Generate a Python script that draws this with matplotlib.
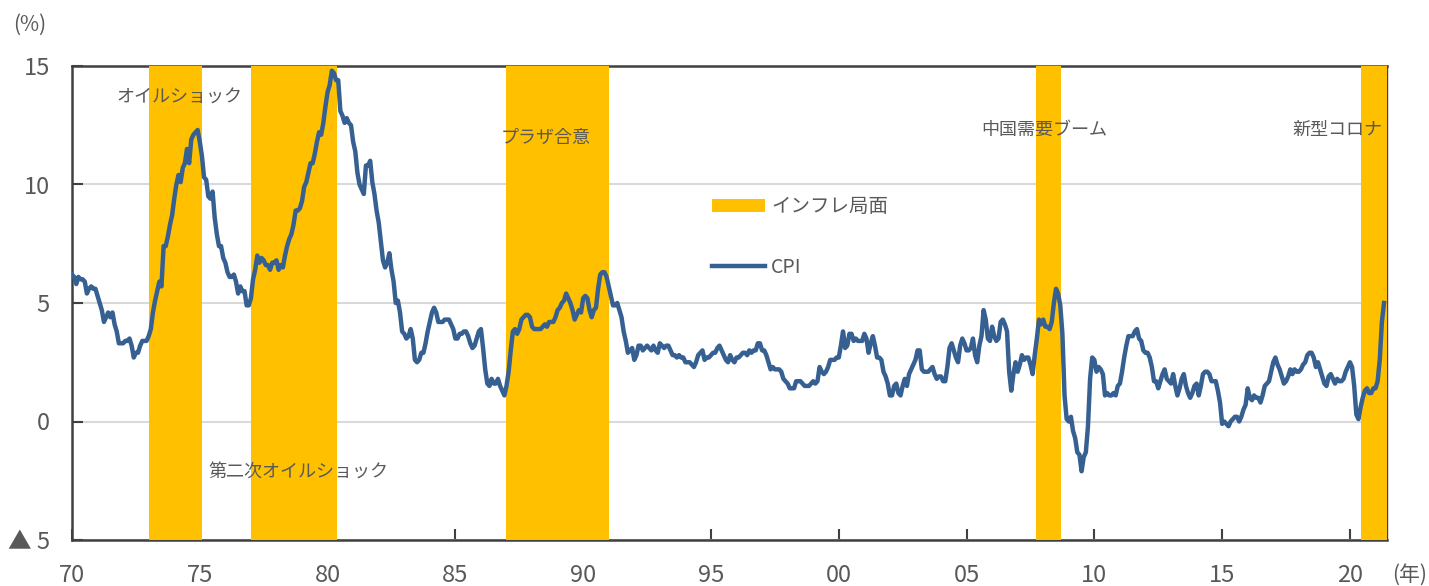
import matplotlib
matplotlib.use("Agg")
import matplotlib.pyplot as plt
import numpy as np
from matplotlib.patches import Patch
from matplotlib.lines import Line2D

plt.rcParams['font.family'] = ['Noto Sans CJK JP', 'DejaVu Sans']

# US CPI, year-over-year % change, monthly from Jan 1970
cpi_by_year = {
    1970: [6.2, 6.1, 5.8, 6.1, 6.0, 6.0, 5.9, 5.4, 5.6, 5.7, 5.6, 5.6],
    1971: [5.3, 5.0, 4.7, 4.2, 4.4, 4.6, 4.4, 4.6, 4.1, 3.8, 3.3, 3.3],
    1972: [3.3, 3.4, 3.4, 3.5, 3.2, 2.7, 2.9, 2.9, 3.2, 3.4, 3.4, 3.4],
    1973: [3.6, 3.9, 4.6, 5.1, 5.5, 5.9, 5.7, 7.4, 7.4, 7.8, 8.3, 8.7],
    1974: [9.4, 10.0, 10.4, 10.1, 10.7, 10.9, 11.5, 10.9, 11.9, 12.1, 12.2, 12.3],
    1975: [11.8, 11.2, 10.3, 10.2, 9.5, 9.4, 9.7, 8.6, 7.9, 7.4, 7.4, 6.9],
    1976: [6.7, 6.3, 6.1, 6.1, 6.2, 5.9, 5.4, 5.7, 5.5, 5.5, 4.9, 4.9],
    1977: [5.2, 6.0, 6.4, 7.0, 6.7, 6.9, 6.8, 6.6, 6.6, 6.4, 6.7, 6.7],
    1978: [6.8, 6.4, 6.6, 6.5, 7.0, 7.4, 7.7, 7.9, 8.3, 8.9, 8.9, 9.0],
    1979: [9.3, 9.9, 10.1, 10.5, 10.9, 10.9, 11.3, 11.8, 12.2, 12.1, 12.6, 13.3],
    1980: [13.9, 14.2, 14.8, 14.7, 14.4, 14.4, 13.1, 12.9, 12.6, 12.8, 12.6, 12.5],
    1981: [11.8, 11.4, 10.5, 10.0, 9.8, 9.6, 10.8, 10.8, 11.0, 10.1, 9.6, 8.9],
    1982: [8.4, 7.6, 6.8, 6.5, 6.7, 7.1, 6.4, 5.9, 5.0, 5.1, 4.6, 3.8],
    1983: [3.7, 3.5, 3.6, 3.9, 3.5, 2.6, 2.5, 2.6, 2.9, 2.9, 3.3, 3.8],
    1984: [4.2, 4.6, 4.8, 4.6, 4.2, 4.2, 4.2, 4.3, 4.3, 4.3, 4.1, 3.9],
    1985: [3.5, 3.5, 3.7, 3.7, 3.8, 3.8, 3.6, 3.3, 3.1, 3.2, 3.5, 3.8],
    1986: [3.9, 3.1, 2.2, 1.6, 1.5, 1.8, 1.6, 1.6, 1.8, 1.5, 1.3, 1.1],
    1987: [1.5, 2.1, 3.0, 3.8, 3.9, 3.7, 3.9, 4.3, 4.4, 4.5, 4.5, 4.4],
    1988: [4.0, 3.9, 3.9, 3.9, 3.9, 4.0, 4.1, 4.0, 4.2, 4.2, 4.2, 4.4],
    1989: [4.7, 4.8, 5.0, 5.1, 5.4, 5.2, 5.0, 4.7, 4.3, 4.5, 4.7, 4.6],
    1990: [5.2, 5.3, 5.2, 4.7, 4.4, 4.7, 4.8, 5.6, 6.2, 6.3, 6.3, 6.1],
    1991: [5.7, 5.3, 4.9, 4.9, 5.0, 4.7, 4.4, 3.8, 3.4, 2.9, 3.0, 3.1],
    1992: [2.6, 2.8, 3.2, 3.2, 3.0, 3.1, 3.2, 3.1, 3.0, 3.2, 3.0, 2.9],
    1993: [3.3, 3.2, 3.1, 3.2, 3.2, 3.0, 2.8, 2.8, 2.7, 2.8, 2.7, 2.7],
    1994: [2.5, 2.5, 2.5, 2.4, 2.3, 2.5, 2.8, 2.9, 3.0, 2.6, 2.7, 2.7],
    1995: [2.8, 2.9, 2.9, 3.1, 3.2, 3.0, 2.8, 2.6, 2.5, 2.8, 2.6, 2.5],
    1996: [2.7, 2.7, 2.8, 2.9, 2.9, 2.8, 3.0, 2.9, 3.0, 3.0, 3.3, 3.3],
    1997: [3.0, 3.0, 2.8, 2.5, 2.2, 2.3, 2.2, 2.2, 2.2, 2.1, 1.8, 1.7],
    1998: [1.6, 1.4, 1.4, 1.4, 1.7, 1.7, 1.7, 1.6, 1.5, 1.5, 1.5, 1.6],
    1999: [1.7, 1.6, 1.7, 2.3, 2.1, 2.0, 2.1, 2.3, 2.6, 2.6, 2.6, 2.7],
    2000: [2.7, 3.2, 3.8, 3.1, 3.2, 3.7, 3.7, 3.4, 3.5, 3.4, 3.4, 3.4],
    2001: [3.7, 3.5, 2.9, 3.3, 3.6, 3.2, 2.7, 2.7, 2.6, 2.1, 1.9, 1.6],
    2002: [1.1, 1.1, 1.5, 1.6, 1.2, 1.1, 1.5, 1.8, 1.5, 2.0, 2.2, 2.4],
    2003: [2.6, 3.0, 3.0, 2.2, 2.1, 2.1, 2.1, 2.2, 2.3, 2.0, 1.8, 1.9],
    2004: [1.9, 1.7, 1.7, 2.3, 3.1, 3.3, 3.0, 2.7, 2.5, 3.2, 3.5, 3.3],
    2005: [3.0, 3.0, 3.1, 3.5, 2.8, 2.5, 3.2, 3.6, 4.7, 4.3, 3.5, 3.4],
    2006: [4.0, 3.6, 3.4, 3.5, 4.2, 4.3, 4.1, 3.8, 2.1, 1.3, 2.0, 2.5],
    2007: [2.1, 2.4, 2.8, 2.6, 2.7, 2.7, 2.4, 2.0, 2.8, 3.5, 4.3, 4.1],
    2008: [4.3, 4.0, 4.0, 3.9, 4.2, 5.0, 5.6, 5.4, 4.9, 3.7, 1.1, 0.1],
    2009: [0.0, 0.2, -0.4, -0.7, -1.3, -1.4, -2.1, -1.5, -1.3, -0.2, 1.8, 2.7],
    2010: [2.6, 2.1, 2.3, 2.2, 2.0, 1.1, 1.2, 1.1, 1.1, 1.2, 1.1, 1.5],
    2011: [1.6, 2.1, 2.7, 3.2, 3.6, 3.6, 3.6, 3.8, 3.9, 3.5, 3.4, 3.0],
    2012: [2.9, 2.9, 2.7, 2.3, 1.7, 1.7, 1.4, 1.7, 2.0, 2.2, 1.8, 1.7],
    2013: [1.6, 2.0, 1.5, 1.1, 1.4, 1.8, 2.0, 1.5, 1.2, 1.0, 1.2, 1.5],
    2014: [1.6, 1.1, 1.5, 2.0, 2.1, 2.1, 2.0, 1.7, 1.7, 1.7, 1.3, 0.8],
    2015: [-0.1, 0.0, -0.1, -0.2, 0.0, 0.1, 0.2, 0.2, 0.0, 0.2, 0.5, 0.7],
    2016: [1.4, 1.0, 0.9, 1.1, 1.0, 1.0, 0.8, 1.1, 1.5, 1.6, 1.7, 2.1],
    2017: [2.5, 2.7, 2.4, 2.2, 1.9, 1.6, 1.7, 1.9, 2.2, 2.0, 2.2, 2.1],
    2018: [2.1, 2.2, 2.4, 2.5, 2.8, 2.9, 2.9, 2.7, 2.3, 2.5, 2.2, 1.9],
    2019: [1.6, 1.5, 1.9, 2.0, 1.8, 1.6, 1.8, 1.7, 1.7, 1.8, 2.1, 2.3],
    2020: [2.5, 2.3, 1.5, 0.3, 0.1, 0.6, 1.0, 1.3, 1.4, 1.2, 1.2, 1.4],
    2021: [1.4, 1.7, 2.6, 4.2, 5.0],
}

# Inflation phases (start year, end year)
inflation_periods = [(1973.0, 1975.1), (1977.0, 1980.35), (1987.0, 1991.0),
                     (2007.7, 2008.7), (2020.45, 2021.6)]

period_labels = ["オイルショック", "第二次オイルショック", "プラザ合意",
                 "中国需要ブーム", "新型コロナ"]

x_ticks = [1970, 1975, 1980, 1985, 1990, 1995, 2000, 2005, 2010, 2015, 2020]
x_tick_labels = ["70", "75", "80", "85", "90", "95", "00", "05", "10", "15", "20"]
y_ticks = [-5, 0, 5, 10, 15]
y_tick_labels = ["▲ 5", "0", "5", "10", "15"]

# build series
t = []
v = []
for yr, vals in cpi_by_year.items():
    for m, val in enumerate(vals):
        t.append(yr + m / 12.0)
        v.append(val)
t = np.array(t)
v = np.array(v)

W, H = 1429, 586
fig = plt.figure(figsize=(W / 100, H / 100), dpi=100)
ax = fig.add_axes([72 / W, 1 - 540 / H, (1387 - 72) / W, (540 - 66) / H])

text_color = "#595959"
yellow = "#FFC000"
blue = "#376092"

for s, e in inflation_periods:
    ax.axvspan(s, e, color=yellow, lw=0, zorder=2)

ax.plot(t, v, color=blue, lw=3.2, zorder=3, solid_joinstyle='round')

ax.set_xlim(1970, 2021.45)
ax.set_ylim(-5, 15)

ax.set_yticks(y_ticks)
ax.set_yticklabels(y_tick_labels)
ax.set_xticks(x_ticks)
ax.set_xticklabels(x_tick_labels)

ax.grid(axis='y', color="#D9D9D9", lw=1.5, zorder=0.5)
ax.set_axisbelow(True)
ax.tick_params(axis='y', direction='in', length=8, width=1.5, color="#404040",
               labelsize=17, labelcolor=text_color, pad=16)
ax.tick_params(axis='x', direction='in', length=8, width=1.5, color="#404040",
               labelsize=17, labelcolor=text_color, pad=17.5)

for side in ['left', 'bottom', 'top']:
    ax.spines[side].set_color("#404040")
    ax.spines[side].set_linewidth(1.8)
    ax.spines[side].set_zorder(1)
ax.spines['right'].set_color("#404040")
ax.spines['right'].set_linewidth(1.0)
ax.spines['right'].set_zorder(1)

# annotations
label_pos = [(1974.22, 13.65), (1978.85, -2.15), (1988.55, 11.95),
             (2008.05, 12.3), (2019.5, 12.3)]
for lab, (x, y) in zip(period_labels, label_pos):
    ax.text(x, y, lab, ha='center', va='center', fontsize=13, color=text_color, zorder=4)

fig.text(30 / W, 1 - 25 / H, "(%)", ha='center', va='center', fontsize=15, color=text_color)
fig.text(1410 / W, 1 - 575 / H, "(年)", ha='center', va='center', fontsize=15, color=text_color)

handles = [Patch(facecolor=yellow, edgecolor='none', label="インフレ局面"),
           Line2D([0], [0], color=blue, lw=3.2, label="CPI")]
leg = ax.legend(handles=handles, loc='upper left', frameon=False,
                bbox_to_anchor=(712 / W, 1 - 196 / H), bbox_transform=fig.transFigure,
                fontsize=14, labelcolor=text_color, handlelength=2.7, handleheight=0.65,
                handletextpad=0.35, labelspacing=2.05, borderpad=0, borderaxespad=0)

fig.savefig("out.png", dpi=100)
